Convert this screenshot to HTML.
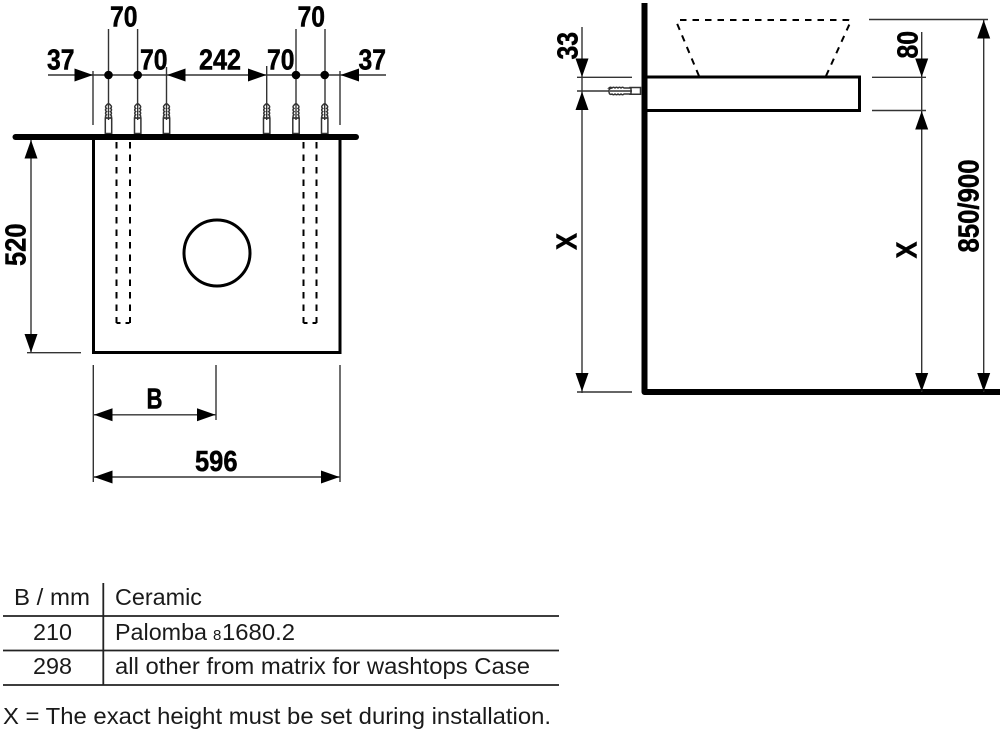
<!DOCTYPE html>
<html><head><meta charset="utf-8"><style>
html,body{margin:0;padding:0;background:#fff;width:1000px;height:732px;overflow:hidden}
svg{display:block}
.d{font-family:"Liberation Sans Narrow","Liberation Sans",sans-serif;font-weight:bold;font-size:29px;fill:#000;stroke:#000;stroke-width:.5}
.t{font-family:"Liberation Sans",sans-serif;font-size:23px;fill:#1a1a1a}
.l{stroke:#333;stroke-width:1.4;fill:none}
.h{stroke:#000;stroke-width:3;fill:none}
.da{stroke:#000;stroke-width:2;fill:none;stroke-dasharray:6.500 6}
.a{stroke:#333;stroke-width:1.500;fill:#fff}
.r{stroke:#333;stroke-width:1.500;fill:none}
</style></head><body>
<svg width="1000" height="732" viewBox="0 0 1000 732" xmlns="http://www.w3.org/2000/svg">
<defs>
<g id="anc">
<path class="a" d="M-3.200 118V133.500H3.200V118z"/>
<path class="a" d="M-2 118q-2-1.700 0-3.200q-2-1.700 0-3.200q-2-1.700 0-3.200q-2-1.700 0-3.200q2-3 4 0q2 1.500 0 3.200q2 1.500 0 3.200q2 1.500 0 3.200q2 1.500 0 3.200z"/>
<path class="l" d="M0 104V120"/>
</g>
</defs>

<!-- left plan: dimension lines -->
<path class="l" d="M48 75H386M93 71V125M108.500 29V105M137.600 29V105M166.500 67V105M266.700 66V105M296 29V105M325 29V105M340 71V125"/>
<path d="M74.500 68.500L93 75L74.500 81.500zM185.500 68.500L167 75L185.500 81.500zM248 68.500L266.500 75L248 81.500zM359 68.500L340.500 75L359 81.500z"/>
<circle cx="108.500" cy="75" r="4.300"/><circle cx="137.700" cy="75" r="4.300"/><circle cx="296" cy="75" r="4.300"/><circle cx="324.700" cy="75" r="4.300"/>
<use href="#anc" x="108.500"/><use href="#anc" x="137.700"/><use href="#anc" x="166.500"/><use href="#anc" x="266.700"/><use href="#anc" x="296"/><use href="#anc" x="324.700"/>

<!-- left plan: body -->
<path d="M15.500 137H356" stroke="#000" stroke-width="6" stroke-linecap="round"/>
<path class="h" d="M93.500 137V352.500H340V137"/>
<path class="da" d="M116.500 142V323M130 142V323M303.500 142V323M316.500 142V323"/>
<path d="M116.500 323H130M303.500 323H316.500" stroke="#000" stroke-width="2" stroke-dasharray="4 5" fill="none"/>
<circle cx="217" cy="253" r="33" class="h"/>

<path class="l" d="M31 140V352M27 352.700H81"/>
<path d="M24.500 158.500L31 140L37.500 158.500zM24.500 334L31 352.500L37.500 334z"/>
<path class="l" d="M93.300 365V482M340 365V482M216 365V420M93 414.800H216M93 477H340"/>
<path d="M112.500 408.300L94 414.800L112.500 421.300zM197 408.300L215.500 414.800L197 421.300zM112.500 470.500L94 477L112.500 483.500zM321 470.500L339.500 477L321 483.500z"/>

<!-- right section -->
<path d="M644.500 3V392H1000" stroke="#000" stroke-width="6" fill="none" stroke-linejoin="round"/>
<path class="h" d="M646 77H859.500V110.500H646"/>
<path class="da" d="M680 20H848q3 0 2 3M826 76L850 23M699 76L676 21"/>

<path class="l" d="M582 27V393M577 77.300H632M577 91H609M577 392H632"/>
<path d="M575.500 58.500L582 77L588.500 58.500zM575.500 110L582 91.500L588.500 110zM575.500 373L582 391.500L588.500 373z"/>
<path class="a" d="M630 87.500H640.500V94.300H630z"/>
<path class="a" d="M609 88q1.500-1.500 3 0q1.500-1.500 3 0q1.500-1.500 3 0q1.500-1.500 3 0q1.500-1.500 3 0H631V94H624q-1.500 1.500-3 0q-1.500 1.500-3 0q-1.500 1.500-3 0q-1.500 1.500-3 0q-3 1.500-3-3q0-3 3-3z"/>
<path class="l" d="M632 91H610"/>

<path class="l" d="M921.700 32V392M872 77.300H926M872 110.500H926M869 19.500H988M983.700 20V392"/>
<path d="M915.200 58.500L921.700 77L928.200 58.500zM915.200 129.500L921.700 111L928.200 129.500zM915.200 373L921.700 391.500L928.200 373zM977.200 38.500L983.700 20L990.200 38.500zM977.200 373L983.700 391.500L990.200 373z"/>

<!-- dimension labels -->
<g class="d">
<text x="110" y="26.500" textLength="27.500" lengthAdjust="spacingAndGlyphs">70</text>
<text x="297.500" y="26.500" textLength="27.500" lengthAdjust="spacingAndGlyphs">70</text>
<text x="47" y="69.500" textLength="27.500" lengthAdjust="spacingAndGlyphs">37</text>
<text x="140" y="69.500" textLength="27.500" lengthAdjust="spacingAndGlyphs">70</text>
<text x="199" y="69.500" textLength="42" lengthAdjust="spacingAndGlyphs">242</text>
<text x="267" y="69.500" textLength="27.500" lengthAdjust="spacingAndGlyphs">70</text>
<text x="358.500" y="69.500" textLength="27.500" lengthAdjust="spacingAndGlyphs">37</text>
<text x="146.500" y="408.500" textLength="16" lengthAdjust="spacingAndGlyphs">B</text>
<text x="195" y="471" textLength="42.500" lengthAdjust="spacingAndGlyphs">596</text>
<text transform="translate(25.500 266) rotate(-90)" textLength="42.500" lengthAdjust="spacingAndGlyphs">520</text>
<text transform="translate(577.500 59.500) rotate(-90)" textLength="27.500" lengthAdjust="spacingAndGlyphs">33</text>
<text transform="translate(576.500 250) rotate(-90)" textLength="17" lengthAdjust="spacingAndGlyphs">X</text>
<text transform="translate(916.500 258.500) rotate(-90)" textLength="17" lengthAdjust="spacingAndGlyphs">X</text>
<text transform="translate(917.500 58.500) rotate(-90)" textLength="27.500" lengthAdjust="spacingAndGlyphs">80</text>
<text transform="translate(978.500 252.500) rotate(-90)" textLength="93" lengthAdjust="spacingAndGlyphs">850/900</text>
</g>

<!-- table -->
<path d="M3 616H559M3 650.500H559M3 685H559M103.300 583V685" stroke="#222" stroke-width="1.800" fill="none"/>
<g class="t">
<text x="14" y="605" textLength="76" lengthAdjust="spacingAndGlyphs">B / mm</text>
<text x="115" y="605" textLength="87" lengthAdjust="spacingAndGlyphs">Ceramic</text>
<text x="33" y="640" textLength="39" lengthAdjust="spacingAndGlyphs">210</text>
<text x="115" y="640" textLength="92" lengthAdjust="spacingAndGlyphs">Palomba</text>
<text x="213" y="640" font-size="15">8</text>
<text x="222" y="640" textLength="73" lengthAdjust="spacingAndGlyphs">1680.2</text>
<text x="33" y="674" textLength="39" lengthAdjust="spacingAndGlyphs">298</text>
<text x="115" y="674" textLength="415" lengthAdjust="spacingAndGlyphs">all other from matrix for washtops Case</text>
<text x="3" y="724" textLength="548" lengthAdjust="spacingAndGlyphs">X = The exact height must be set during installation.</text>
</g>
</svg>
</body></html>
